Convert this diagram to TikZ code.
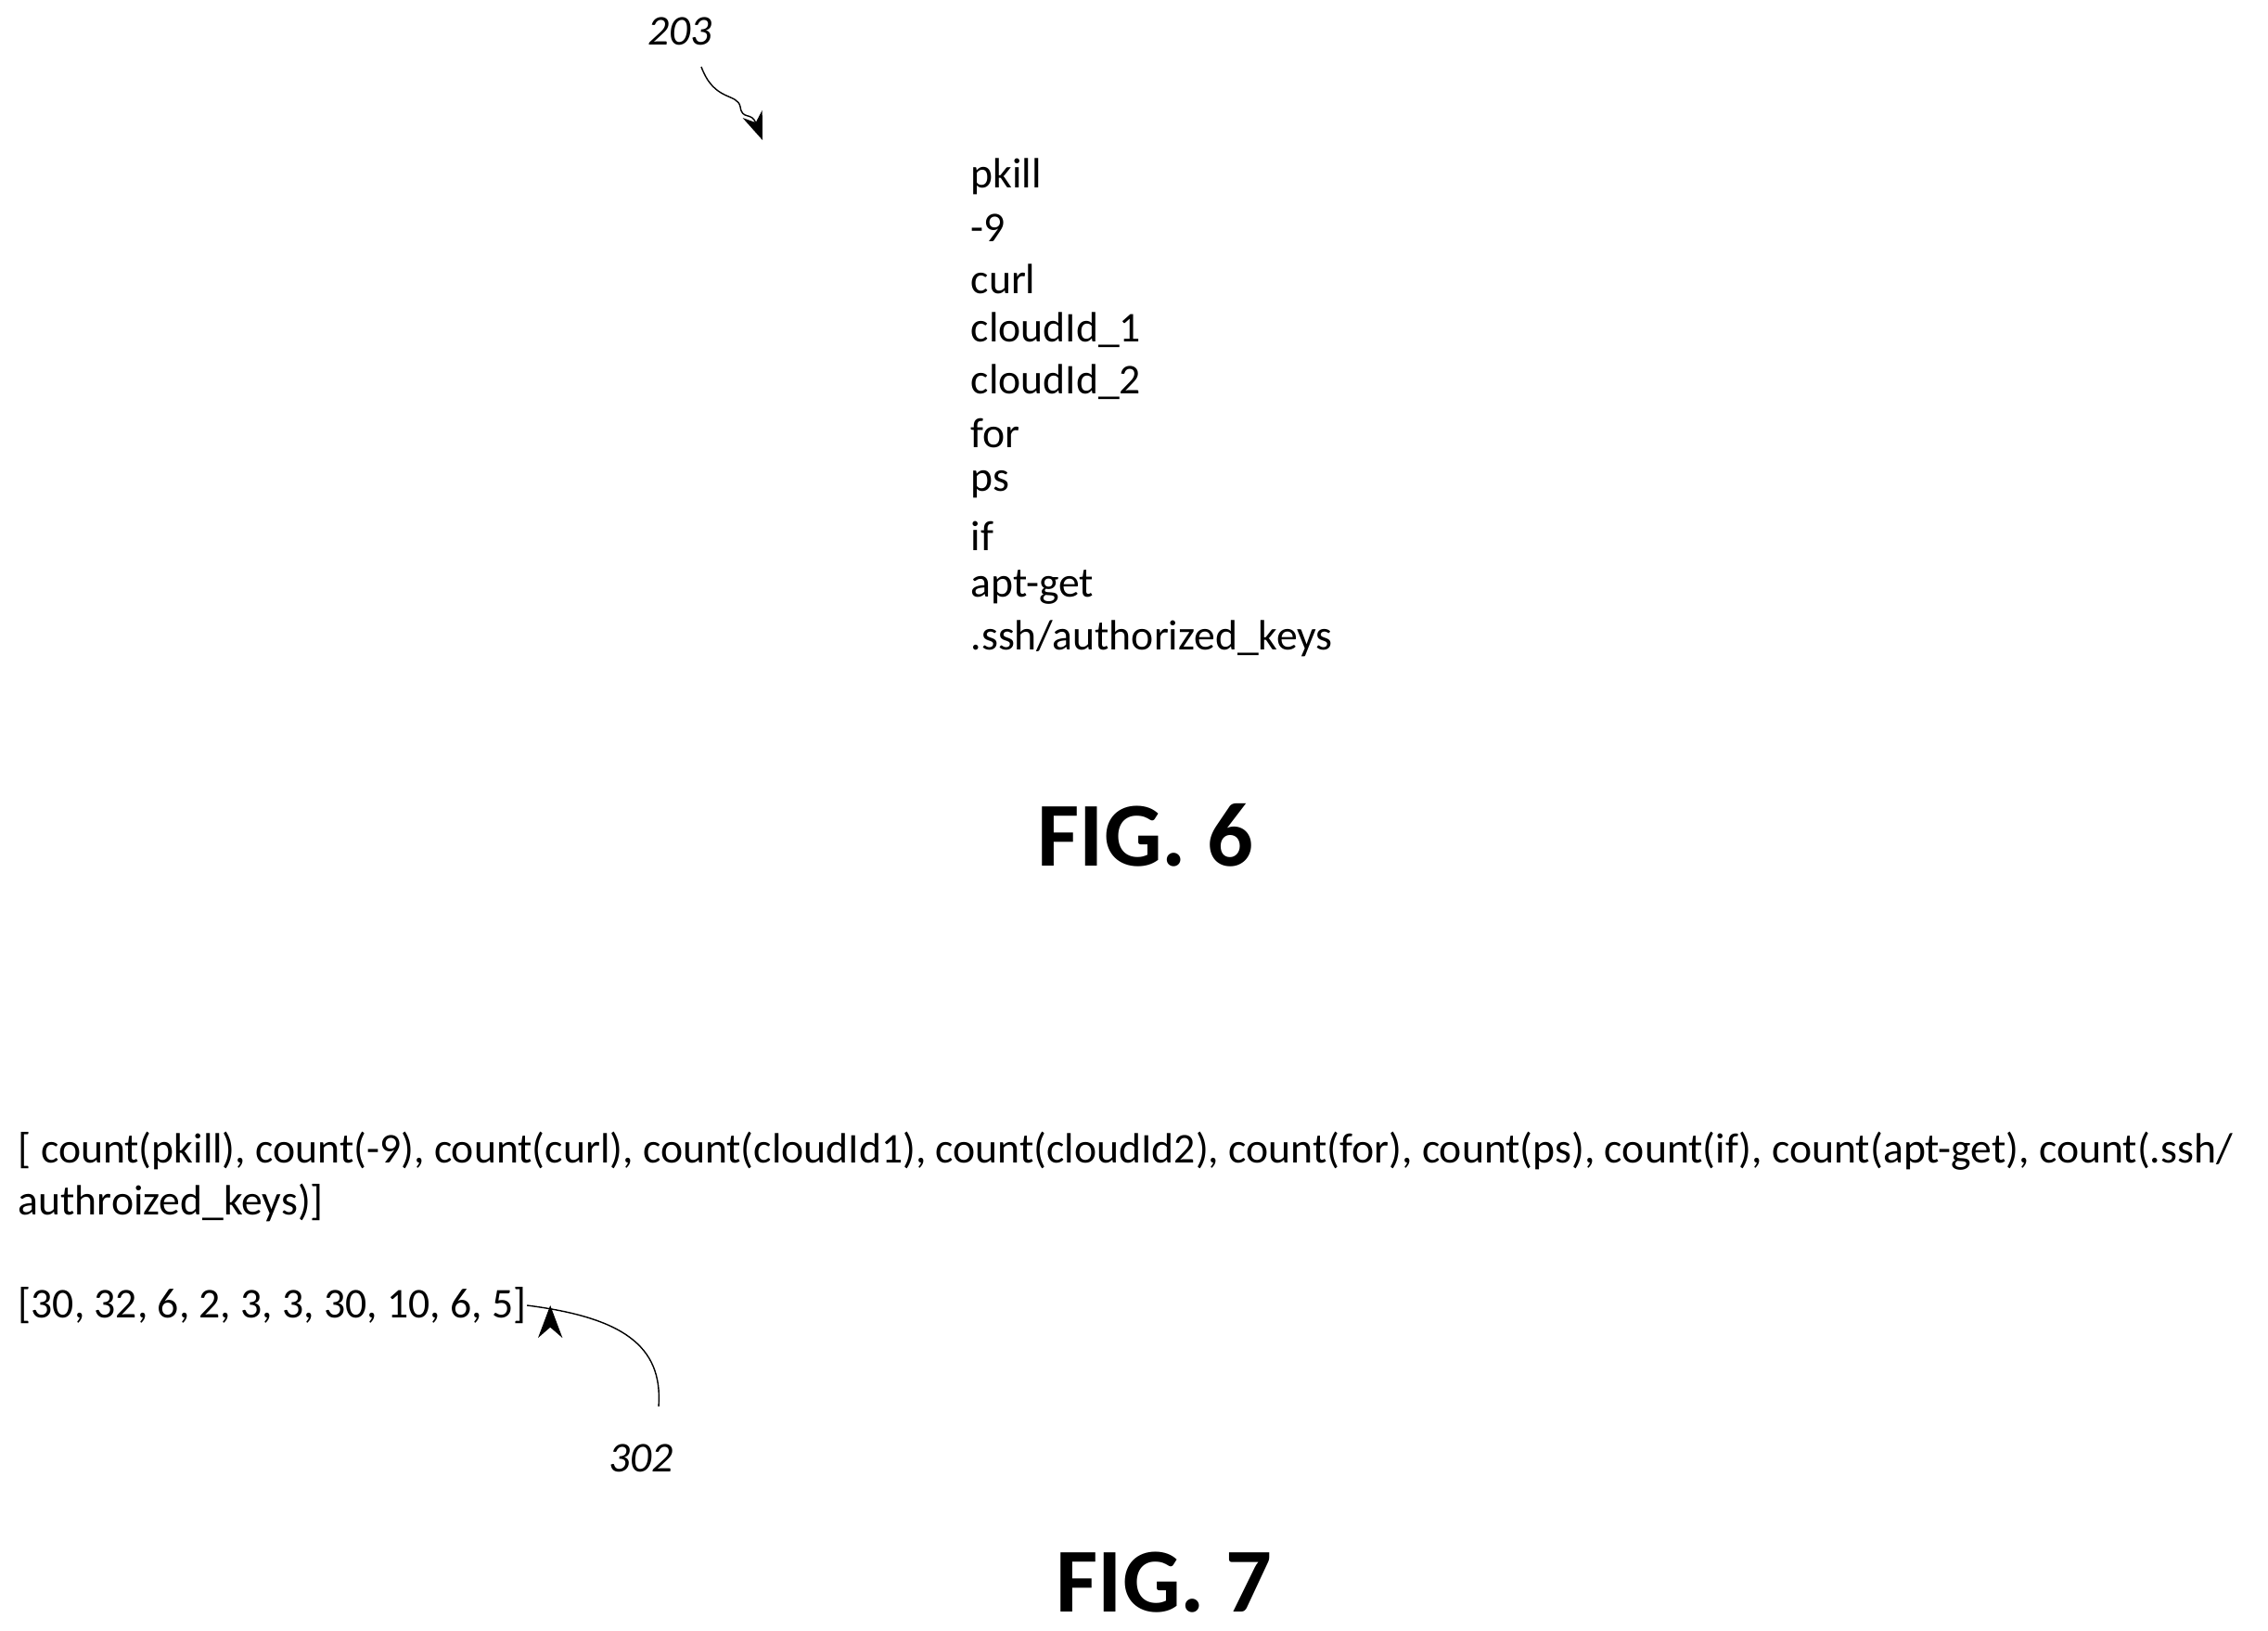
\documentclass[tikz,border=0pt]{standalone}
\usepackage{fontspec}
\setmainfont{Carlito}
\usetikzlibrary{arrows.meta,positioning}
\tikzset{
  word/.style={anchor=west, inner sep=0pt, font=\fontsize{13}{15.6}\selectfont},
  refnum/.style={inner sep=0pt, font=\fontsize{13}{15.6}\selectfont\itshape},
  figlabel/.style={inner sep=0pt, font=\fontsize{28}{33}\selectfont\bfseries},
}
\begin{document}
\begin{tikzpicture}
\useasboundingbox (0,0) rectangle (24.45,-17.58);

% FIG. 6
\node[refnum] (r203) at (7.33,-0.34) {203};
\coordinate (a203s) at (7.56,-0.72);
\coordinate (a203e) at (8.22,-1.51);
\draw[-{Stealth[length=3mm]}, thin] (a203s) .. controls (7.7,-1.1) and (7.95,-1.0) .. (7.98,-1.15)
  .. controls (8.0,-1.3) and (8.1,-1.2) .. (a203e);
\foreach \t [count=\i] in {pkill,-9,curl,cloudId\_1,cloudId\_2,for,ps,if,apt-get,.ssh/authorized\_keys}
  \node[word] (w\i) at (10.46,-1.35-0.553*\i) {\t};
\node[figlabel] (fig6) at (12.35,-9.0) {FIG. 6};

% FIG. 7
\node[word] (cnt1) at (0.19,-12.41) {[ count(pkill), count(-9), count(curl), count(cloudId1), count(cloudId2), count(for), count(ps), count(if), count(apt-get), count(.ssh/};
\node[word] (cnt2) at (0.19,-12.96) {authroized\_keys)]};
\node[word] (vec) at (0.19,-14.07) {[30, 32, 6, 2, 3, 3, 30, 10, 6, 5]};
\node[refnum] (r302) at (6.91,-15.72) {302};
\coordinate (a302s) at (7.10,-15.16);
\draw[-{Stealth[length=3.5mm]}, thin] (a302s) .. controls (7.15,-14.5) and (6.7,-14.2) .. (vec.east) ++(0.25,0);
\node[figlabel] (fig7) at (12.55,-17.06) {FIG. 7};
\end{tikzpicture}
\end{document}
